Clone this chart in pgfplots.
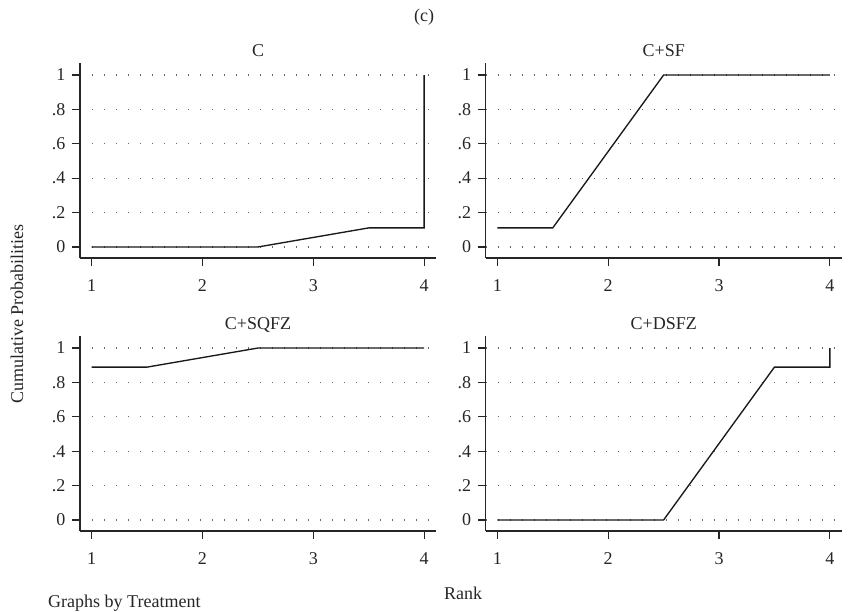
\documentclass[border=0pt]{standalone}
\usepackage{pgfplots}
\pgfplotsset{compat=1.18}
\usepackage{fontspec}
\setmainfont{Liberation Serif}
\definecolor{txt}{gray}{0.15}
\pgfplotsset{
  stpanel/.style={
    scale only axis,
    width=356pt, height=195pt,
    anchor=south west,
    xmin=0.895, xmax=4.107,
    ymin=-0.064, ymax=1.07,
    axis x line*=bottom, axis y line*=left,
    axis line style={-, line width=1.2pt, color=black!85},
    tick align=outside,
    major tick length=8pt,
    tick style={line width=1.1pt, color=black!85},
    xtick={1,2,3,4},
    ytick={0,0.2,0.4,0.6,0.8,1},
    yticklabels={0,.2,.4,.6,.8,1},
    xticklabels={1,2,3,4},
    ymajorgrids,
    grid style={line width=1.2pt, dash pattern=on 1.2pt off 10.8pt, color=black!60},
    font=\fontsize{18}{21}\selectfont\color{txt},
    ticklabel style={font=\fontsize{18}{21}\selectfont\color{txt}},
    yticklabel style={xshift=-3pt},
    xticklabel style={yshift=-10pt},
    title style={at={(0.5,1)}, anchor=base, yshift=0pt, font=\fontsize{18}{21}\selectfont\color{txt}},
    clip=false,
  },
  stline/.style={line width=1.35pt, color=black!90, mark=none},
}
\begin{document}
\begin{tikzpicture}
\path[use as bounding box] (0pt,0pt) rectangle (848pt,612pt);

\begin{axis}[stpanel, at={(80pt,354pt)}, title={C}]
\addplot[stline] coordinates {(1,0) (2.5,0) (3.5,0.111) (4,0.111) (4,1)};
\end{axis}

\begin{axis}[stpanel, at={(485.7pt,354pt)}, title={C+SF}]
\addplot[stline] coordinates {(1,0.111) (1.5,0.111) (2.5,1) (4,1)};
\end{axis}

\begin{axis}[stpanel, at={(80pt,81pt)}, title={C+SQFZ}]
\addplot[stline] coordinates {(1,0.889) (1.5,0.889) (2.5,1) (4,1)};
\end{axis}

\begin{axis}[stpanel, at={(485.7pt,81pt)}, title={C+DSFZ}]
\addplot[stline] coordinates {(1,0) (2.5,0) (3.5,0.889) (4,0.889) (4,1)};
\end{axis}

\node[anchor=base, text=txt, font=\fontsize{18}{21}\selectfont] at (424pt,590pt) {(c)};
\node[anchor=base, rotate=90, text=txt, font=\fontsize{18}{21}\selectfont] at (23pt,298pt) {Cumulative Probabilities};
\node[anchor=base, text=txt, font=\fontsize{18}{21}\selectfont] at (463pt,12pt) {Rank};
\node[anchor=base west, inner sep=0pt, text=txt, font=\fontsize{18}{21}\selectfont] at (48pt,4pt) {Graphs by Treatment};
\end{tikzpicture}
\end{document}
